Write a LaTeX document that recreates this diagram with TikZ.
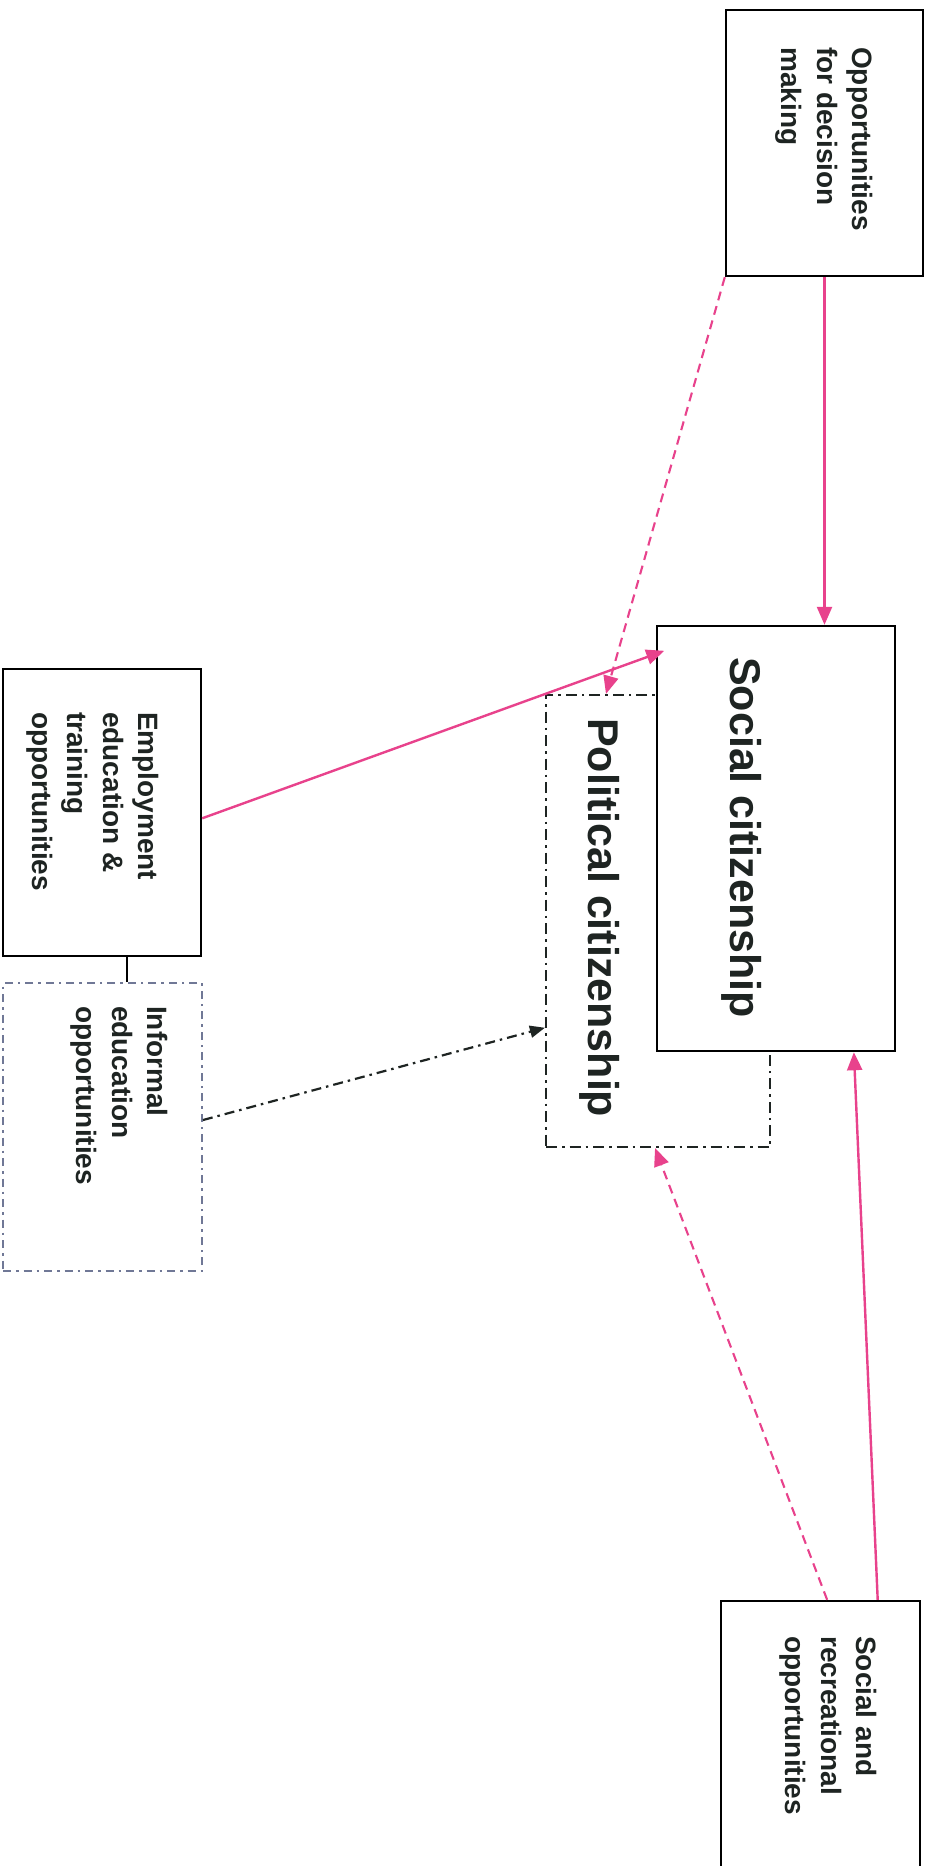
\documentclass[tikz,border=0pt]{standalone}
\usepackage{fontspec}
\setmainfont{Liberation Sans}
\usetikzlibrary{arrows.meta,calc}
\definecolor{linkpink}{RGB}{232,66,140}
\definecolor{inkdark}{RGB}{30,36,34}
\definecolor{slateblue}{RGB}{112,120,150}

\begin{document}
\begin{tikzpicture}[x=1pt,y=-1pt,
  boxframe/.style={draw=black, line width=2.4pt, rectangle, inner sep=0pt, fill=white},
  dotframe/.style={draw=inkdark, line width=2.2pt, rectangle, inner sep=0pt,
    dash pattern=on 11pt off 5pt on 2.5pt off 5pt},
  softframe/.style={draw=slateblue, line width=1.8pt, rectangle, inner sep=0pt,
    dash pattern=on 8pt off 5pt on 2.5pt off 5pt},
  smalltext/.style={rotate=-90, anchor=north west, align=left, inner sep=0pt,
    text=inkdark, font=\bfseries\fontsize{28}{35.5}\selectfont},
  bigtext/.style={rotate=-90, anchor=north west, inner sep=0pt,
    text=inkdark, font=\bfseries\fontsize{43}{50}\selectfont},
  pinktip/.style={-{Triangle[length=18pt,width=15pt]}},
  pinklink/.style={draw=linkpink, line width=2.4pt, pinktip},
  pinkdash/.style={draw=linkpink, line width=2.1pt, dash pattern=on 9pt off 6pt, pinktip},
  darkdash/.style={draw=inkdark, line width=2.2pt,
    dash pattern=on 10pt off 5pt on 2.5pt off 5pt, -{Triangle[length=15pt,width=12pt]}}
]
\useasboundingbox (0,0) rectangle (931,1866);
\fill[white] (0,0) rectangle (931,1866);

% political citizenship frame sits behind the social citizenship box
\node[dotframe, minimum width=224pt, minimum height=452pt] (pol) at (658,921) {};
\node[boxframe, minimum width=238pt, minimum height=425pt] (soc) at (776,838.5) {};

% outer boxes
\node[boxframe, minimum width=197pt, minimum height=266pt] (opp) at (824.5,143) {};
\node[boxframe, minimum width=198pt, minimum height=287pt] (emp) at (102,812.5) {};
\node[softframe, minimum width=199pt, minimum height=288pt] (inf) at (102.5,1127) {};
\node[boxframe, minimum width=199pt, minimum height=279pt] (rec) at (820.5,1740.5) {};

% labels
\node[bigtext] (soctext) at (762,657) {Social citizenship};
\node[bigtext] (poltext) at (620,718) {Political citizenship};
\node[smalltext] (opptext) at (873,47) {Opportunities\\for decision\\making};
\node[smalltext] (emptext) at (159,712) {Employment\\education \&\\training\\opportunities};
\node[smalltext] (inftext) at (168,1006) {Informal\\education\\opportunities};
\node[smalltext] (rectext) at (877,1636) {Social and\\recreational\\opportunities};

% connectors
\draw[pinklink] (opp.south) -- (opp.south |- soc.north);
\draw[pinkdash] (opp.south west) -- ($(pol.north west)!0.27!(pol.north east)$);
\draw[pinklink, shorten >=-9pt] ($(emp.north east)!0.52!(emp.south east)$)
  -- ($(soc.north west)!0.068!(soc.south west)$);
\coordinate (empfoot) at ($(emp.south west)!0.625!(emp.south east)$);
\draw[black, line width=2.2pt] (empfoot) -- (empfoot |- inf.north);
\draw[darkdash] ($(inf.north east)!0.476!(inf.south east)$)
  -- ($(pol.north west)!0.735!(pol.south west)$);
\draw[pinklink] ($(rec.north west)!0.784!(rec.north east)$)
  -- ($(soc.south west)!0.824!(soc.south east)$);
\draw[pinkdash] ($(rec.north west)!0.533!(rec.north east)$)
  -- ($(pol.south west)!0.487!(pol.south east)$);
\end{tikzpicture}
\end{document}
